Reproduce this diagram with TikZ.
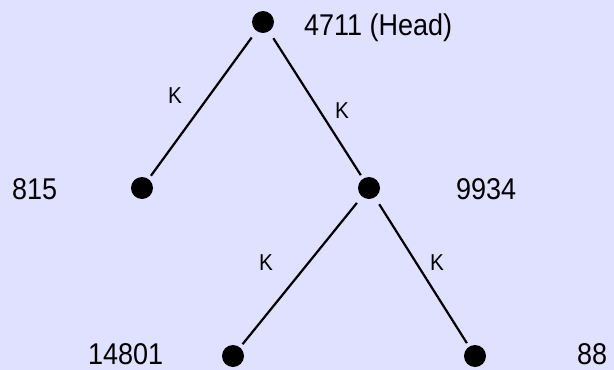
\documentclass[tikz,border=0pt]{standalone}
\usepackage{fontspec}
\setmainfont{Liberation Sans}
\newfontfamily\narrowsans[FakeStretch=0.9]{Liberation Sans}
\definecolor{slidebg}{RGB}{224,224,255}

\begin{document}
\begin{tikzpicture}[x=1pt, y=-1pt,
    dot/.style={circle, fill=black, minimum size=22pt, inner sep=0pt},
    link/.style={line width=2.2pt, shorten <=8pt, shorten >=4pt},
    keylabel/.style={font=\narrowsans\fontsize{23}{25}\selectfont, anchor=base, inner sep=0pt},
    idlabel/.style={font=\narrowsans\fontsize{30}{32}\selectfont, anchor=base west, inner sep=0pt}]
    % Background of the slide
    \fill[slidebg] (0,0) rectangle (614,370);
    \useasboundingbox (0,0) rectangle (614,370);

    % Draw the list elements
    \node[dot] (head) at (263,22) {};
    \node[dot] (left) at (142,188) {};
    \node[dot] (right) at (369,188) {};
    \node[dot] (rleft) at (233,356) {};
    \node[dot] (rright) at (475,356) {};

    % Draw the links between them
    \draw[link] (head) -- (left);
    \draw[link] (head) -- (right);
    \draw[link] (right) -- (rleft);
    \draw[link] (right) -- (rright);

    % Mark the links
    \node[keylabel] (k1) at (175,103) {K};
    \node[keylabel] (k2) at (342,118) {K};
    \node[keylabel] (k3) at (266,270) {K};
    \node[keylabel] (k4) at (437,270) {K};

    % Values of the elements
    \node[idlabel] (headval) at (304,35) {4711 (Head)};
    \node[idlabel] (leftval) at (12,199) {815};
    \node[idlabel] (rightval) at (456,199) {9934};
    \node[idlabel] (rleftval) at (88,364) {14801};
    \node[idlabel] (rrightval) at (577,364) {88};
\end{tikzpicture}
\end{document}
